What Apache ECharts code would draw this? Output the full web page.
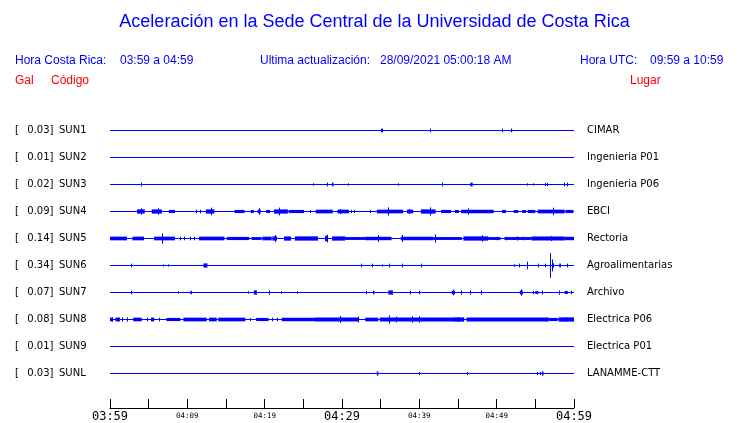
<!DOCTYPE html>
<html><head><meta charset="utf-8">
<script src="https://cdn.jsdelivr.net/npm/echarts@6/dist/echarts.min.js"></script>
<style>html,body{margin:0;padding:0;background:#fff}#c{width:740px;height:423px}</style>
</head><body><div id="c"></div>
<script>
// ---- texts ----
const titleText = 'Aceleración en la Sede Central de la Universidad de Costa Rica';
const crLabel = 'Hora Costa Rica:', crRange = '03:59 a 04:59';
const updLabel = 'Ultima actualización:', updValue = '28/09/2021 05:00:18 AM';
const utcLabel = 'Hora UTC:', utcRange = '09:59 a 10:59';
const hdrGal = 'Gal', hdrCode = 'Código', hdrPlace = 'Lugar';

// ---- stations ----
const codes  = ['SUN1','SUN2','SUN3','SUN4','SUN5','SUN6','SUN7','SUN8','SUN9','SUNL'];
const peaks  = ['0.03','0.01','0.02','0.09','0.14','0.34','0.07','0.08','0.01','0.03'];
const places = ['CIMAR','Ingenieria P01','Ingenieria P06','EBCI','Rectoria','Agroalimentarias','Archivo','Electrica P06','Electrica P01','LANAMME-CTT'];

// time axis: minutes after 03:59
const tickLabels = ['03:59','04:09','04:19','04:29','04:39','04:49','04:59'];
const bigTicks = ['03:59','04:29','04:59'];

// spikes: [minute, amplitude (fraction of half row)]; bursts: [start, end, amplitude]
const sun1Spikes = [[35.0,0.1],[35.2,0.1],[41.4,0.1],[50.7,0.1]];
const sun1Bursts = [[51.85,52.0,0.1]];
const sun2Spikes = [];
const sun2Bursts = [];
const sun3Spikes = [[4.0,0.1],[26.3,0.05],[28.0,0.1],[30.8,0.05],[37.3,0.05],[42.9,0.1],[53.9,0.05],[54.7,0.05],[56.2,0.08],[56.5,0.08],[58.7,0.1],[59.1,0.1]];
const sun3Bursts = [[28.7,28.9,0.1],[46.6,46.9,0.1]];
const sun4Spikes = [[4.0,0.2],[6.2,0.2],[11.1,0.1],[11.6,0.1],[13.0,0.25],[19.3,0.2],[21.8,0.25],[25.9,0.08],[29.8,0.15],[31.2,0.08],[31.6,0.08],[33.6,0.08],[36.0,0.27],[38.7,0.15],[41.4,0.27],[46.3,0.2],[57.3,0.25]];
const sun4Bursts = [[3.5,4.5,0.12],[5.4,6.7,0.12],[7.6,8.4,0.08],[12.4,13.5,0.12],[16.1,17.4,0.08],[18.2,18.6,0.08],[19.1,19.5,0.1],[20.2,20.7,0.08],[21.2,23.0,0.12],[23.1,25.1,0.08],[26.6,28.8,0.1],[29.4,30.9,0.1],[34.5,37.9,0.1],[38.4,39.2,0.1],[40.2,42.1,0.12],[42.8,44.1,0.08],[44.6,45.1,0.08],[45.4,49.6,0.1],[50.7,51.2,0.08],[52.2,52.8,0.07],[53.3,53.8,0.07],[54.0,55.0,0.08],[55.3,58.8,0.1],[58.9,59.9,0.08]];
const sun5Spikes = [[6.7,0.35],[9.0,0.1],[9.6,0.1],[10.3,0.1],[10.8,0.1],[21.3,0.22],[28.0,0.25],[34.7,0.22],[37.7,0.22],[42.0,0.27],[48.1,0.2],[50.0,0.1],[51.2,0.1],[52.6,0.12],[53.4,0.1],[57.0,0.15]];
const sun5Bursts = [[0.0,2.2,0.1],[2.9,4.4,0.1],[5.7,8.4,0.1],[11.5,14.8,0.1],[15.1,18.0,0.08],[18.3,19.6,0.07],[19.7,20.9,0.1],[21.0,21.6,0.12],[22.5,23.4,0.12],[23.9,26.9,0.12],[27.8,28.1,0.17],[28.7,30.4,0.12],[30.4,33.0,0.07],[33.0,36.4,0.09],[37.6,41.8,0.1],[41.8,45.5,0.07],[45.7,48.9,0.12],[48.9,50.5,0.07],[51.0,54.5,0.07],[54.5,58.8,0.12],[58.8,60.0,0.09]];
const sun6Spikes = [[2.7,0.1],[6.8,0.05],[7.5,0.05],[32.4,0.1],[33.9,0.1],[35.2,0.05],[36.1,0.1],[37.8,0.1],[40.2,0.1],[52.2,0.05],[52.9,0.1],[53.9,0.25],[55.4,0.1],[56.3,0.1],[56.9,0.88],[57.1,0.4],[57.3,0.12],[59.1,0.1]];
const sun6Bursts = [[12.1,12.6,0.12],[58.1,58.3,0.12]];
const sun7Spikes = [[2.7,0.1],[8.8,0.05],[17.8,0.05],[20.5,0.12],[22.1,0.05],[24.2,0.05],[33.1,0.1],[38.8,0.1],[39.9,0.1],[44.3,0.17],[45.4,0.12],[46.6,0.12],[48.0,0.12],[53.2,0.2],[54.7,0.1],[55.8,0.12],[58.0,0.12],[59.6,0.1]];
const sun7Bursts = [[10.4,10.6,0.1],[18.6,19.0,0.12],[34.0,34.2,0.1],[36.0,36.6,0.12],[44.2,44.6,0.1],[53.0,53.4,0.1],[55.0,55.4,0.08],[58.8,59.2,0.08]];
const sun8Spikes = [[0.3,0.12],[1.0,0.12],[1.6,0.12],[2.2,0.12],[4.8,0.1],[5.6,0.1],[6.3,0.1],[18.1,0.08],[21.0,0.1],[21.6,0.1],[29.8,0.22],[32.1,0.18],[36.1,0.27],[37.0,0.18],[39.0,0.2],[40.0,0.2],[45.0,0.15],[56.5,0.12],[59.0,0.14]];
const sun8Bursts = [[0.0,0.4,0.1],[0.7,1.3,0.1],[3.0,4.1,0.1],[5.3,5.7,0.1],[7.3,9.1,0.08],[9.5,12.5,0.1],[12.8,13.8,0.1],[14.0,17.5,0.1],[18.9,20.5,0.08],[22.2,26.5,0.1],[26.5,32.1,0.11],[33.0,34.7,0.1],[34.9,44.2,0.11],[44.2,45.8,0.12],[46.1,56.7,0.11],[56.7,57.9,0.08],[58.0,60.0,0.12]];
const sun9Spikes = [];
const sun9Bursts = [];
const sunlSpikes = [[39.9,0.08],[46.1,0.08],[55.2,0.08],[55.6,0.08]];
const sunlBursts = [[34.5,34.7,0.12],[55.85,56.05,0.12]];

const allSpikes = [sun1Spikes,sun2Spikes,sun3Spikes,sun4Spikes,sun5Spikes,sun6Spikes,sun7Spikes,sun8Spikes,sun9Spikes,sunlSpikes];
const allBursts = [sun1Bursts,sun2Bursts,sun3Bursts,sun4Bursts,sun5Bursts,sun6Bursts,sun7Bursts,sun8Bursts,sun9Bursts,sunlBursts];

const BLUE = '#0000ff', RED = '#ff0000';
const HALF = 0.5; // half row in y units

const series = [];
codes.forEach((c, i) => {
  series.push({
    type: 'line', name: c, xAxisIndex: 0, yAxisIndex: 0,
    data: [[0, i], [60, i]], symbol: 'none', silent: true,
    lineStyle: { color: BLUE, width: 1 }, animation: false
  });
  series.push({
    type: 'custom', name: c + ' spikes', xAxisIndex: 0, yAxisIndex: 0, silent: true, animation: false,
    data: allSpikes[i].map(s => [s[0], i, s[1]]),
    encode: { x: 0, y: 1 },
    renderItem: (params, api) => {
      const t = api.value(0), row = api.value(1), a = api.value(2);
      const p1 = api.coord([t, row - a * HALF]);
      const p2 = api.coord([t, row + a * HALF]);
      const x = Math.round(p1[0]) + 0.5;
      return { type: 'line', shape: { x1: x, y1: Math.min(p1[1], p2[1]) - 0.5, x2: x, y2: Math.max(p1[1], p2[1]) + 0.5 },
               style: { stroke: BLUE, lineWidth: 1 } };
    }
  });
  series.push({
    type: 'custom', name: c + ' bursts', xAxisIndex: 0, yAxisIndex: 0, silent: true, animation: false,
    data: allBursts[i].map(b => [b[0], b[1], i, b[2]]),
    encode: { x: [0, 1], y: 2 },
    renderItem: (params, api) => {
      const t0 = api.value(0), t1 = api.value(1), row = api.value(2), a = api.value(3);
      const p1 = api.coord([t0, row - a * HALF]);
      const p2 = api.coord([t1, row + a * HALF]);
      const y0 = Math.min(p1[1], p2[1]), y1 = Math.max(p1[1], p2[1]);
      return { type: 'rect', shape: { x: p1[0], y: y0 - 0.5, width: Math.max(1, p2[0] - p1[0]), height: (y1 - y0) + 1 },
               style: { fill: BLUE } };
    }
  });
});

const chart = echarts.init(document.getElementById('c'), null, { renderer: 'canvas' });
chart.setOption({
  animation: false,
  backgroundColor: '#ffffff',
  grid: { left: 110, width: 464, top: 117, height: 270 },
  xAxis: {
    type: 'value', min: 0, max: 60, interval: 5, position: 'bottom', offset: 21,
    axisLine: { show: true, onZero: false, lineStyle: { color: '#000', width: 1 } },
    axisTick: { show: true, inside: true, length: 9, lineStyle: { color: '#000', width: 1 } },
    splitLine: { show: false },
    axisLabel: {
      show: true, margin: 2, showMinLabel: true, showMaxLabel: true, hideOverlap: false,
      formatter: v => {
        if (v % 10 !== 0) return '';
        const lab = tickLabels[v / 10];
        return bigTicks.includes(lab) ? '{big|' + lab + '}' : '{small|' + lab + '}';
      },
      rich: {
        big: { fontFamily: 'DejaVu Sans Mono', fontSize: 12, color: '#000', lineHeight: 14 },
        small: { fontFamily: 'DejaVu Sans Mono', fontSize: 7.5, color: '#000', lineHeight: 12 }
      }
    }
  },
  yAxis: [
    { type: 'value', min: -0.5, max: 9.5, inverse: true, show: false },
    { type: 'category', data: codes.map((c, i) => i), inverse: true, position: 'left',
      axisLine: { show: false }, axisTick: { show: false },
      axisLabel: { margin: 95, align: 'left',
        formatter: (v) => { const i = +v; return '{b|[}{v|' + peaks[i] + ']}{n| ' + codes[i] + '}'; },
        rich: {
          b: { fontFamily: 'DejaVu Sans', fontSize: 10, color: '#000', width: 12.3 },
          v: { fontFamily: 'DejaVu Sans', fontSize: 10, color: '#000', width: 28.5 },
          n: { fontFamily: 'DejaVu Sans', fontSize: 10, color: '#000' }
        } } },
    { type: 'category', data: places, inverse: true, position: 'right',
      axisLine: { show: false }, axisTick: { show: false },
      axisLabel: { margin: 13, align: 'left', fontFamily: 'DejaVu Sans', fontSize: 10, color: '#000' } }
  ],
  graphic: [
    { type: 'text', x: 374.5, y: 22, style: { text: titleText, fill: BLUE, font: '18px "Liberation Sans"', textAlign: 'center', textVerticalAlign: 'middle' } },
    { type: 'text', x: 15, y: 61, style: { text: crLabel, fill: BLUE, font: '12px "Liberation Sans"', textVerticalAlign: 'middle' } },
    { type: 'text', x: 120, y: 61, style: { text: crRange, fill: BLUE, font: '12px "Liberation Sans"', textVerticalAlign: 'middle' } },
    { type: 'text', x: 260, y: 61, style: { text: updLabel, fill: BLUE, font: '12px "Liberation Sans"', textVerticalAlign: 'middle' } },
    { type: 'text', x: 380, y: 61, style: { text: updValue, fill: BLUE, font: '12px "Liberation Sans"', textVerticalAlign: 'middle' } },
    { type: 'text', x: 580, y: 61, style: { text: utcLabel, fill: BLUE, font: '12px "Liberation Sans"', textVerticalAlign: 'middle' } },
    { type: 'text', x: 650, y: 61, style: { text: utcRange, fill: BLUE, font: '12px "Liberation Sans"', textVerticalAlign: 'middle' } },
    { type: 'text', x: 15, y: 81, style: { text: hdrGal, fill: RED, font: '12px "Liberation Sans"', textVerticalAlign: 'middle' } },
    { type: 'text', x: 51, y: 81, style: { text: hdrCode, fill: RED, font: '12px "Liberation Sans"', textVerticalAlign: 'middle' } },
    { type: 'text', x: 630, y: 81, style: { text: hdrPlace, fill: RED, font: '12px "Liberation Sans"', textVerticalAlign: 'middle' } }
  ],
  series: series
});
</script>
</body></html>
